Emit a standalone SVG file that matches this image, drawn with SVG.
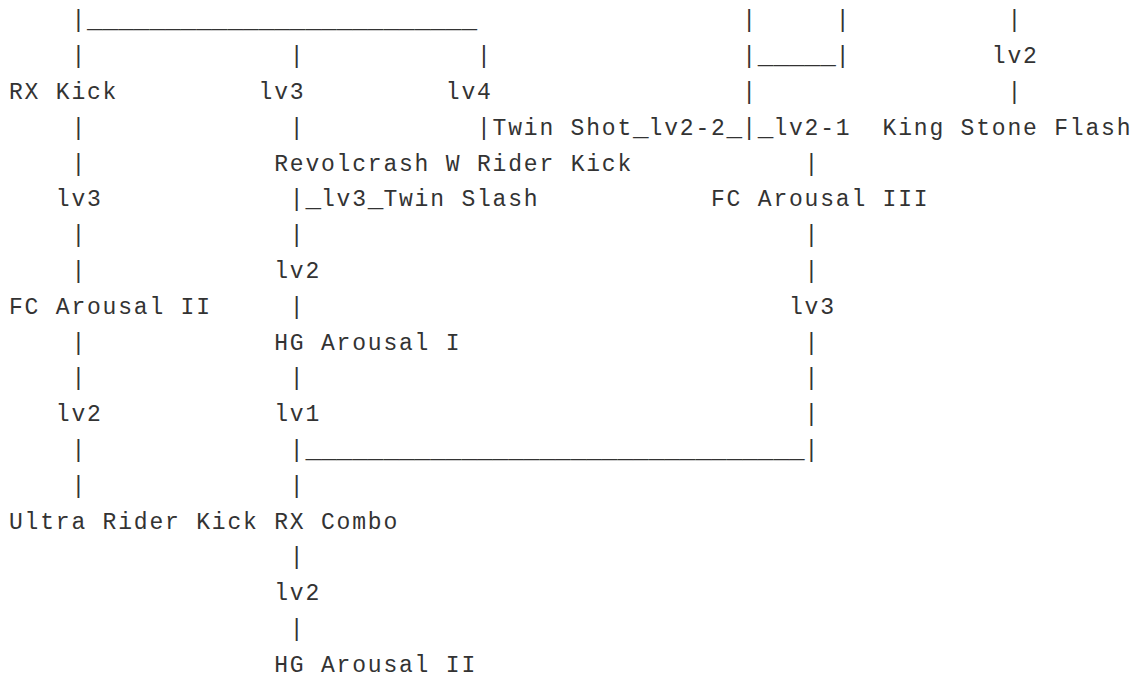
<svg xmlns="http://www.w3.org/2000/svg" width="1138" height="679" viewBox="0 0 1138 679">
<style>
text { font-family: "Liberation Mono", "Courier New", monospace; font-size: 23px; letter-spacing: 1.8px; fill: #333; }
text.u { font-size: 26px; letter-spacing: 0px; }
</style>
<rect width="1138" height="679" fill="#ffffff"/>
<g id="connectors">
  <!-- row 0 -->
  <text x="71.4" y="27.4">|</text>
  <text class="u" x="87" y="27.4">_________________________</text>
  <text x="742.2" y="27.4">|</text>
  <text x="835.8" y="27.4">|</text>
  <text x="1007.4" y="27.4">|</text>
  <!-- row 1 -->
  <text x="71.4" y="63.2">|</text>
  <text x="289.8" y="63.2">|</text>
  <text x="477" y="63.2">|</text>
  <text x="742.2" y="63.2">|</text>
  <text class="u" x="757.8" y="63.2">_____</text>
  <text x="835.8" y="63.2">|</text>
  <text x="991.8" y="63.2">lv2</text>
  <!-- row 2 -->
  <text x="258.6" y="99">lv3</text>
  <text x="445.8" y="99">lv4</text>
  <text x="742.2" y="99">|</text>
  <text x="1007.4" y="99">|</text>
  <!-- row 3 -->
  <text x="71.4" y="134.8">|</text>
  <text x="289.8" y="134.8">|</text>
  <text x="477" y="134.8">|</text>
  <text class="u" x="633" y="134.8">_</text>
  <text x="648.6" y="134.8">lv2-2</text>
  <text class="u" x="726.6" y="134.8">_</text>
  <text x="742.2" y="134.8">|</text>
  <text class="u" x="757.8" y="134.8">_</text>
  <text x="773.4" y="134.8">lv2-1</text>
  <!-- row 4 -->
  <text x="71.4" y="170.6">|</text>
  <text x="804.6" y="170.6">|</text>
  <!-- row 5 -->
  <text x="55.8" y="206.4">lv3</text>
  <text x="289.8" y="206.4">|</text>
  <text class="u" x="305.4" y="206.4">_</text>
  <text x="321" y="206.4">lv3</text>
  <text class="u" x="367.8" y="206.4">_</text>
  <!-- row 6 -->
  <text x="71.4" y="242.2">|</text>
  <text x="289.8" y="242.2">|</text>
  <text x="804.6" y="242.2">|</text>
  <!-- row 7 -->
  <text x="71.4" y="278">|</text>
  <text x="274.2" y="278">lv2</text>
  <text x="804.6" y="278">|</text>
  <!-- row 8 -->
  <text x="289.8" y="313.8">|</text>
  <text x="789" y="313.8">lv3</text>
  <!-- row 9 -->
  <text x="71.4" y="349.6">|</text>
  <text x="804.6" y="349.6">|</text>
  <!-- row 10 -->
  <text x="71.4" y="385.4">|</text>
  <text x="289.8" y="385.4">|</text>
  <text x="804.6" y="385.4">|</text>
  <!-- row 11 -->
  <text x="55.8" y="421.2">lv2</text>
  <text x="274.2" y="421.2">lv1</text>
  <text x="804.6" y="421.2">|</text>
  <!-- row 12 -->
  <text x="71.4" y="457">|</text>
  <text x="289.8" y="457">|</text>
  <text class="u" x="305.4" y="457">________________________________</text>
  <text x="804.6" y="457">|</text>
  <!-- row 13 -->
  <text x="71.4" y="492.8">|</text>
  <text x="289.8" y="492.8">|</text>
  <!-- row 15-17 -->
  <text x="289.8" y="564.4">|</text>
  <text x="274.2" y="600.2">lv2</text>
  <text x="289.8" y="636">|</text>
</g>
<g id="node-rx-kick"><text x="9" y="99">RX Kick</text></g>
<g id="node-twin-shot"><text x="492.6" y="134.8">Twin Shot</text></g>
<g id="node-king-stone-flash"><text x="882.6" y="134.8">King Stone Flash</text></g>
<g id="node-revolcrash"><text x="274.2" y="170.6">Revolcrash W Rider Kick</text></g>
<g id="node-twin-slash"><text x="383.4" y="206.4">Twin Slash</text></g>
<g id="node-fc-arousal-iii"><text x="711" y="206.4">FC Arousal III</text></g>
<g id="node-fc-arousal-ii"><text x="9" y="313.8">FC Arousal II</text></g>
<g id="node-hg-arousal-i"><text x="274.2" y="349.6">HG Arousal I</text></g>
<g id="node-ultra-rider-kick"><text x="9" y="528.6">Ultra Rider Kick</text></g>
<g id="node-rx-combo"><text x="274.2" y="528.6">RX Combo</text></g>
<g id="node-hg-arousal-ii"><text x="274.2" y="671.8">HG Arousal II</text></g>
</svg>
